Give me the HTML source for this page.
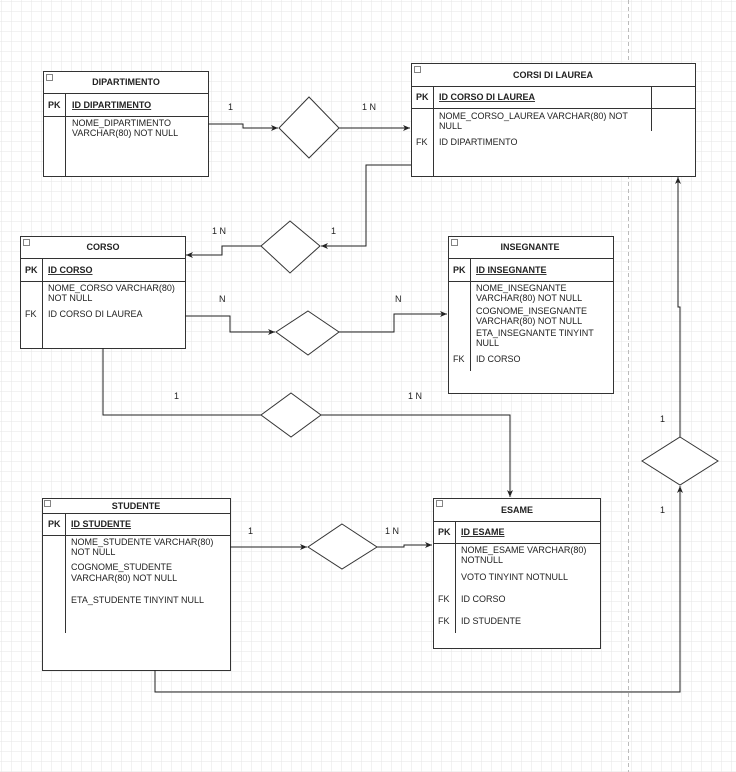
<!DOCTYPE html>
<html><head><meta charset="utf-8"><style>
html,body{margin:0;padding:0;background:#fff}
svg{display:block}
text{font-family:"Liberation Sans",Arial,sans-serif;font-size:9px;fill:#222}
.b{font-weight:bold}
</style></head><body>
<svg width="736" height="772" xmlns="http://www.w3.org/2000/svg">
<defs>
<pattern id="g" width="10" height="10" patternUnits="userSpaceOnUse" x="1" y="1">
<path d="M10 0H0V10" fill="none" stroke="#e6e6e6" stroke-width="1"/>
</pattern>
<marker id="a" markerWidth="8" markerHeight="8" refX="7" refY="4" orient="auto" markerUnits="userSpaceOnUse">
<path d="M0,1 L7,4 L0,7 L2,4 Z" fill="#222"/>
</marker>
</defs>
<rect width="736" height="772" fill="url(#g)"/>
<line x1="628.5" y1="0" x2="628.5" y2="772" stroke="#bbb" stroke-dasharray="4,3"/>

<g fill="#fff" stroke="#333" stroke-width="1">
<!-- DIPARTIMENTO -->
<rect x="43.5" y="71.5" width="165" height="105"/>
<line x1="43.5" y1="93.5" x2="208.5" y2="93.5"/><line x1="43.5" y1="116.5" x2="208.5" y2="116.5"/>
<line x1="65.5" y1="93.5" x2="65.5" y2="176.5"/>
<!-- CORSI DI LAUREA -->
<rect x="411.5" y="63.5" width="284" height="113"/>
<line x1="411.5" y1="86.5" x2="695.5" y2="86.5"/><line x1="411.5" y1="108.5" x2="695.5" y2="108.5"/>
<line x1="433.5" y1="86.5" x2="433.5" y2="176.5"/><line x1="651.5" y1="86.5" x2="651.5" y2="131"/>
<!-- CORSO -->
<rect x="20.5" y="236.5" width="165" height="112"/>
<line x1="20.5" y1="258.5" x2="185.5" y2="258.5"/><line x1="20.5" y1="281.5" x2="185.5" y2="281.5"/>
<line x1="42.5" y1="258.5" x2="42.5" y2="348.5"/>
<!-- INSEGNANTE -->
<rect x="448.5" y="236.5" width="165" height="157"/>
<line x1="448.5" y1="258.5" x2="613.5" y2="258.5"/><line x1="448.5" y1="281.5" x2="613.5" y2="281.5"/>
<line x1="470.5" y1="258.5" x2="470.5" y2="371"/>
<!-- STUDENTE -->
<rect x="42.5" y="498.5" width="188" height="172"/>
<line x1="42.5" y1="513.5" x2="230.5" y2="513.5"/><line x1="42.5" y1="535.5" x2="230.5" y2="535.5"/>
<line x1="65.5" y1="513.5" x2="65.5" y2="633"/>
<!-- ESAME -->
<rect x="433.5" y="498.5" width="167" height="150"/>
<line x1="433.5" y1="521.5" x2="600.5" y2="521.5"/><line x1="433.5" y1="543.5" x2="600.5" y2="543.5"/>
<line x1="455.5" y1="521.5" x2="455.5" y2="633"/>
<!-- diamonds -->
<polygon points="309,97 339,128 309,158 279,128"/>
<polygon points="290,221 320,246 290,273 261,246"/>
<polygon points="308,311 339,332 308,355 276,332"/>
<polygon points="291,393 321,415 291,437 261,415"/>
<polygon points="342,524 377,547 342,569 308,547"/>
<polygon points="680,437 718,461 680,485 642,461"/>
</g>
<!-- minus icons -->
<g fill="#fff" stroke="#666" stroke-width="0.8">
<rect x="46.5" y="74.5" width="6" height="6"/><rect x="414.5" y="66.5" width="6" height="6"/>
<rect x="23.5" y="239.5" width="6" height="6"/><rect x="451.5" y="239.5" width="6" height="6"/>
<rect x="44.5" y="500.5" width="6" height="6"/><rect x="436.5" y="500.5" width="6" height="6"/>
</g>

<g fill="none" stroke="#222" stroke-width="1">
<polyline points="208,124 243,124 243,128 278,128" marker-end="url(#a)"/>
<polyline points="339,128 410,128" marker-end="url(#a)"/>
<polyline points="411,165 366,165 366,246 321,246" marker-end="url(#a)"/>
<polyline points="261,246 222,246 222,255 186,255" marker-end="url(#a)"/>
<polyline points="185,316 230,316 230,332 275,332" marker-end="url(#a)"/>
<polyline points="339,332 394,332 394,314 447,314" marker-end="url(#a)"/>
<polyline points="103,348 103,415 261,415"/>
<polyline points="321,415 510,415 510,497" marker-end="url(#a)"/>
<polyline points="230,547 307,547" marker-end="url(#a)"/>
<polyline points="377,547 404,547 404,545 432,545" marker-end="url(#a)"/>
<polyline points="155,670 155,692 680,692 680,486" marker-end="url(#a)"/>
<polyline points="680,437 680,307 678,307 678,177" marker-end="url(#a)"/>
</g>

<text class="b" x="126" y="85" text-anchor="middle">DIPARTIMENTO</text>
<text class="b" x="48" y="108">PK</text>
<text class="b" x="72" y="108" text-decoration="underline">ID DIPARTIMENTO</text>
<text x="72" y="126">NOME_DIPARTIMENTO</text><text x="72" y="136">VARCHAR(80) NOT NULL</text>

<text class="b" x="553" y="78" text-anchor="middle">CORSI DI LAUREA</text>
<text class="b" x="416" y="100">PK</text>
<text class="b" x="439" y="100" text-decoration="underline">ID CORSO DI LAUREA</text>
<text x="439" y="119">NOME_CORSO_LAUREA VARCHAR(80) NOT</text><text x="439" y="129">NULL</text>
<text x="416" y="145">FK</text><text x="439" y="145">ID DIPARTIMENTO</text>

<text class="b" x="103" y="250" text-anchor="middle">CORSO</text>
<text class="b" x="25" y="273">PK</text>
<text class="b" x="48" y="273" text-decoration="underline">ID CORSO</text>
<text x="48" y="291">NOME_CORSO VARCHAR(80)</text><text x="48" y="301">NOT NULL</text>
<text x="25" y="317">FK</text><text x="48" y="317">ID CORSO DI LAUREA</text>

<text class="b" x="530" y="250" text-anchor="middle">INSEGNANTE</text>
<text class="b" x="453" y="273">PK</text>
<text class="b" x="476" y="273" text-decoration="underline">ID INSEGNANTE</text>
<text x="476" y="291">NOME_INSEGNANTE</text><text x="476" y="301">VARCHAR(80) NOT NULL</text>
<text x="476" y="314">COGNOME_INSEGNANTE</text><text x="476" y="324">VARCHAR(80) NOT NULL</text>
<text x="476" y="336">ETA_INSEGNANTE TINYINT</text><text x="476" y="346">NULL</text>
<text x="453" y="362">FK</text><text x="476" y="362">ID CORSO</text>

<text class="b" x="136" y="509" text-anchor="middle">STUDENTE</text>
<text class="b" x="48" y="527">PK</text>
<text class="b" x="71" y="527" text-decoration="underline">ID STUDENTE</text>
<text x="71" y="545">NOME_STUDENTE VARCHAR(80)</text><text x="71" y="555">NOT NULL</text>
<text x="71" y="570">COGNOME_STUDENTE</text><text x="71" y="581">VARCHAR(80) NOT NULL</text>
<text x="71" y="603">ETA_STUDENTE TINYINT NULL</text>

<text class="b" x="517" y="513" text-anchor="middle">ESAME</text>
<text class="b" x="438" y="535">PK</text>
<text class="b" x="461" y="535" text-decoration="underline">ID ESAME</text>
<text x="461" y="553">NOME_ESAME VARCHAR(80)</text><text x="461" y="563">NOTNULL</text>
<text x="461" y="580">VOTO TINYINT NOTNULL</text>
<text x="438" y="602">FK</text><text x="461" y="602">ID CORSO</text>
<text x="438" y="624">FK</text><text x="461" y="624">ID STUDENTE</text>

<text x="228" y="110">1</text><text x="362" y="110">1 N</text>
<text x="212" y="234">1 N</text><text x="331" y="234">1</text>
<text x="219" y="302">N</text><text x="395" y="302">N</text>
<text x="174" y="399">1</text><text x="408" y="399">1 N</text>
<text x="248" y="534">1</text><text x="385" y="534">1 N</text>
<text x="660" y="422">1</text><text x="660" y="513">1</text>
</svg>
</body></html>
